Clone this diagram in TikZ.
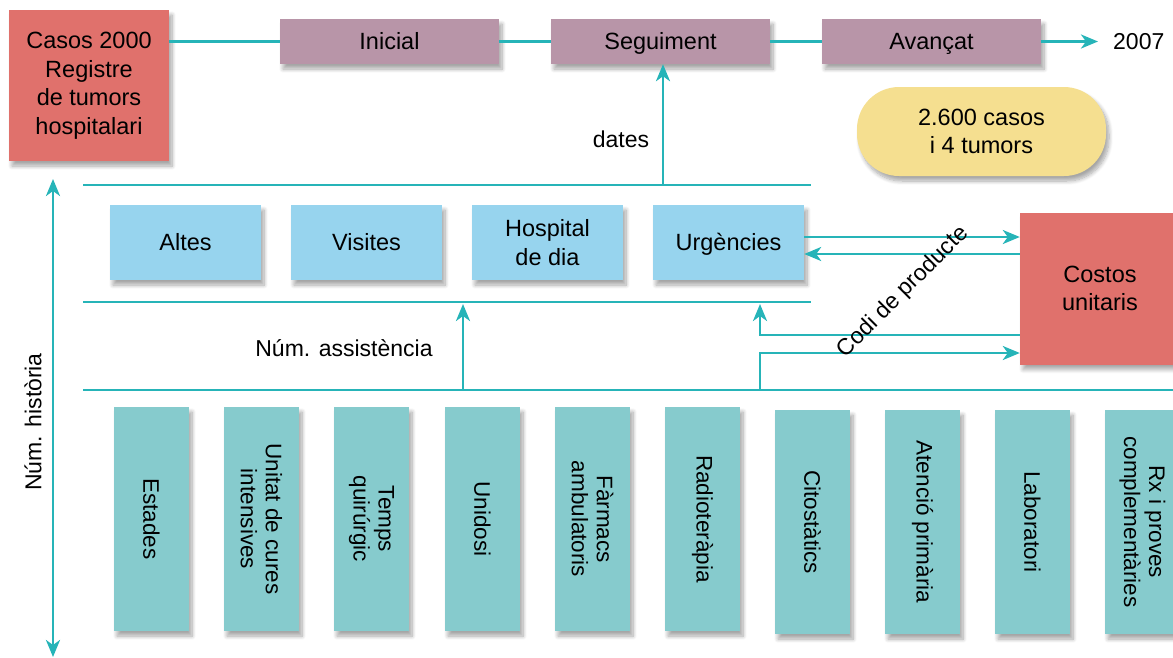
\documentclass[tikz,border=0pt]{standalone}
\usepackage{fontspec}
\setmainfont{Liberation Sans}
\usetikzlibrary{arrows.meta,shadows.blur}
\definecolor{tealc}{RGB}{38,180,184}
\definecolor{redc}{RGB}{224,113,108}
\definecolor{purc}{RGB}{184,149,168}
\definecolor{yelc}{RGB}{245,223,144}
\definecolor{bluec}{RGB}{151,212,238}
\definecolor{tboxc}{RGB}{134,203,205}
\tikzset{
  sh/.style={blur shadow={shadow xshift=3pt,shadow yshift=-5pt,shadow blur radius=4pt,shadow blur steps=8,shadow opacity=35}},
  box/.style={draw=none,inner sep=0pt,align=center,sh,font=\fontsize{23.5}{28.5}\selectfont},
  oneline/.style={text height=17pt,text depth=2pt},
  redbox/.style={box,fill=redc},
  purbox/.style={box,oneline,fill=purc,minimum width=219pt,minimum height=45pt},
  bluebox/.style={box,fill=bluec,minimum width=151pt,minimum height=75pt},
  tbox/.style={box,fill=tboxc,minimum width=75pt,minimum height=224pt},
  vtext/.style={rotate=-90,align=center,inner sep=0pt,font=\fontsize{22.5}{25}\selectfont},
  lbl/.style={inner sep=0pt,font=\fontsize{23}{28}\selectfont},
  conn/.style={draw=tealc,line width=2.8pt},
  tip/.tip={Stealth[length=17pt,width=14pt,inset=5pt]},
  arr/.style={conn,-tip},
}
\begin{document}
\begin{tikzpicture}[x=1pt,y=-1pt]
\useasboundingbox (0,0) rectangle (1173,657);
% top row
\node[redbox,minimum width=160pt,minimum height=151pt] (casos) at (89,85.5) {Casos 2000\\Registre\\de tumors\\hospitalari};
\node[purbox] (inicial) at (389.5,41.5) {Inicial};
\node[purbox] (seg) at (660.5,41.5) {Seguiment};
\node[purbox] (avan) at (931.5,41.5) {Avançat};
\node[lbl,anchor=west,oneline] (y2007) at (1113,41.5) {2007};
\node[box,fill=yelc,minimum width=249pt,minimum height=89pt,rounded corners=42pt] (yel) at (981.5,131.5) {2.600 casos\\i 4 tumors};
\draw[conn] (casos.east |- inicial.west) -- (inicial.west);
\draw[conn] (inicial.east) -- (seg.west);
\draw[conn] (seg.east) -- (avan.west);
\draw[arr] (avan.east) -- ([xshift=-15pt]y2007.west);
% blue row
\node[bluebox,oneline] (altes) at (185.5,242.5) {Altes};
\node[bluebox,oneline] (visites) at (366.5,242.5) {Visites};
\node[bluebox] (hosp) at (547.5,242.5) {Hospital\\de dia};
\node[bluebox,oneline] (urg) at (728.5,242.5) {Urgències};
\node[redbox,minimum width=160pt,minimum height=152pt] (costos) at (1100,288.5) {Costos\\unitaris};
% lines
\coordinate (l1a) at (83,185); \coordinate (l1b) at (811,185);
\coordinate (l2a) at (83,302); \coordinate (l2b) at (811,302);
\coordinate (l3a) at (83,390); \coordinate (l3b) at (1180,390);
\draw[conn] (l1a) -- (l1b);
\draw[conn] (l2a) -- (l2b);
\draw[conn] (l3a) -- (l3b);
\coordinate (d1) at (663,185);
\draw[arr] (d1) -- (d1 |- seg.south);
\node[lbl] (dates) at (621,139) {dates};
\coordinate (a1) at (463,390);
\draw[arr] (a1) -- ([yshift=-2pt]a1 |- l2a);
\node[lbl] (nass) at (344,348) {Núm. assistència};
\coordinate (u1) at (0,237); \coordinate (u2) at (0,254);
\draw[arr] (urg.east |- u1) -- (costos.west |- u1);
\draw[arr] (costos.west |- u2) -- (urg.east |- u2);
\coordinate (k1) at (760,335); \coordinate (k2) at (760,353);
\draw[arr] (costos.west |- k1) -| ([yshift=-2pt]k1 |- l2a);
\draw[arr] (k2 |- l3a) |- (costos.west |- k2);
\node[lbl,rotate=45] (codi) at (903,292) {Codi de producte};
% left arrow
\coordinate (h1) at (53,179); \coordinate (h2) at (53,657);
\draw[conn,tip-tip] (h1) -- (h2);
\node[lbl,rotate=90] (nhist) at (33,422) {Núm. història};
% bottom boxes
\foreach \n/\x/\y/\t in {b1/151.5/519/Estades, b2/261.5/519/{Unitat de cures\\intensives}, b3/371.5/519/{Temps\\quirúrgic}, b4/482.5/519/Unidosi, b5/592.5/519/{Fàrmacs\\ambulatoris}, b6/702.5/519/Radioteràpia, b7/812.5/522/Citostàtics, b8/922.5/522/Atenció primària, b9/1032.5/522/Laboratori, b10/1142.5/522/{Rx i proves\\complementàries}}{
  \node[tbox] (\n) at (\x,\y) {};
  \node[vtext] (\n t) at (\n) {\t};
}
\end{tikzpicture}
\end{document}
